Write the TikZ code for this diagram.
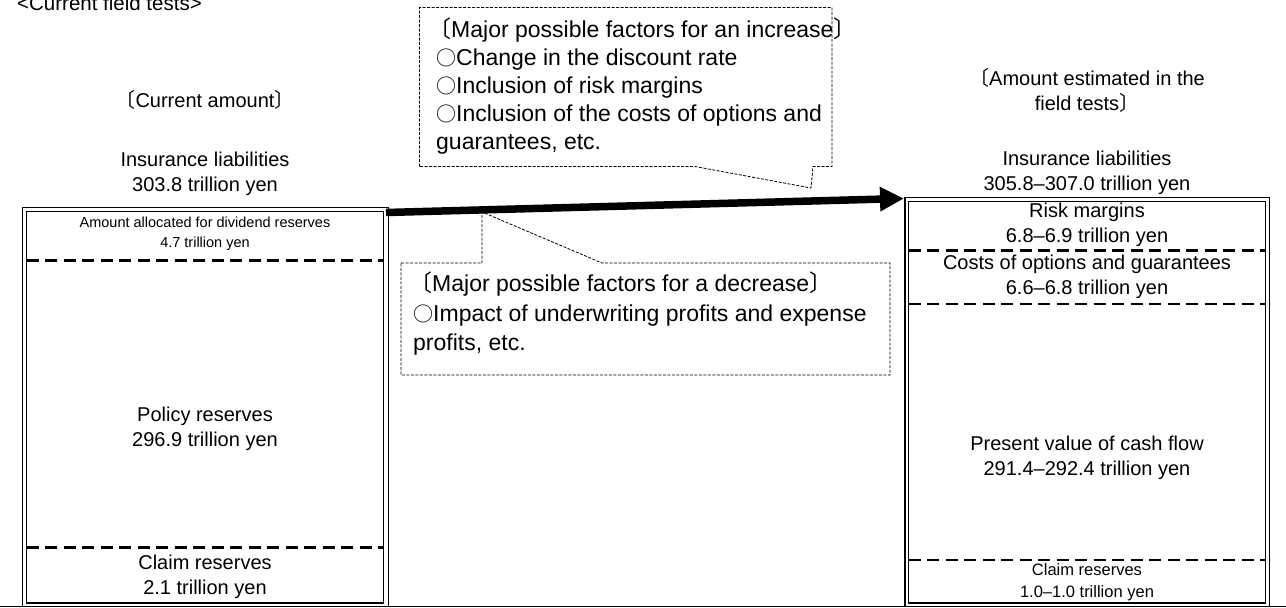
\documentclass[tikz,border=0pt]{standalone}
\usepackage{fontspec}
\setmainfont{Liberation Sans}
\newfontfamily\cjk{Noto Sans CJK JP}
\usetikzlibrary{arrows.meta}
\newcommand\mylb{{\cjk 〔}}
\newcommand\myrb{{\cjk 〕}}
\newcommand\myO{{\fontsize{20}{20}\selectfont\cjk ○}}
\begin{document}
\begin{tikzpicture}[x=1pt,y=-1pt,
  lbl/.style={font=\fontsize{20}{25}\selectfont, align=center, inner sep=0pt},
  smalllbl/.style={font=\fontsize{14.5}{20}\selectfont, align=center, inner sep=0pt},
  smallr/.style={font=\fontsize{16.5}{22}\selectfont, align=center, inner sep=0pt},
  calltext/.style={font=\fontsize{23}{28}\selectfont, align=left, inner sep=0pt},
  frameline/.style={line width=1.3pt},
  sepline/.style={line width=2.6pt, dash pattern=on 12pt off 6.5pt},
  callline/.style={line width=0.8pt, dash pattern=on 3pt off 1.5pt},
  bigarrow/.style={line width=7.5pt, -{Triangle[length=24pt,width=23pt]}}
]
\useasboundingbox (0,0) rectangle (1286,608);

% title (clipped at top, as in the reference)
\node[font=\fontsize{20.5}{25}\selectfont, inner sep=0pt, anchor=base west] (title) at (17,10) {<Current field tests>};

% headings
\node[lbl] (curamt) at (205,100) {\mylb Current amount\myrb};
\node[lbl] (estamt) at (1087,90) {\mylb Amount estimated in the\\field tests\myrb};
\node[lbl] (liabL) at (205,173.5) {Insurance liabilities\\303.8 trillion yen};
\node[lbl] (liabR) at (1087,173) {Insurance liabilities\\305.8--307.0 trillion yen};

% baseline
\draw[frameline] (0,606.5) -- (1286,606.5);

% left box (double)
\draw[frameline] (22.7,606.5) |- (388.3,207.3) -- (388.3,606.5);
\draw[frameline] (26.7,603) rectangle (383.3,211.7);
\node[smalllbl] (divres) at (205,234) {Amount allocated for dividend reserves\\4.7 trillion yen};
\draw[sepline] (26.7,260.5) -- (383.3,260.5);
\node[lbl] (polres) at (205,428.5) {Policy reserves\\296.9 trillion yen};
\draw[sepline] (26.7,547.5) -- (383.3,547.5);
\node[lbl] (claimL) at (205,577) {Claim reserves\\2.1 trillion yen};

% right box (double)
\draw[frameline] (905,606.5) |- (1269.5,197.3) -- (1269.5,606.5);
\draw[frameline] (908.7,603) rectangle (1265.3,201.7);
\node[lbl] (risk) at (1087,224.5) {Risk margins\\6.8--6.9 trillion yen};
\draw[sepline] (908.7,250.5) -- (1265.3,250.5);
\node[lbl] (costs) at (1087,277) {Costs of options and guarantees\\6.6--6.8 trillion yen};
\draw[sepline] (908.7,304) -- (1265.3,304);
\node[lbl] (pvcf) at (1087,457.5) {Present value of cash flow\\291.4--292.4 trillion yen};
\draw[sepline] (908.7,560) -- (1265.3,560);
\node[smallr] (claimR) at (1087,582) {Claim reserves\\1.0--1.0 trillion yen};

% arrow
\coordinate (arrowstart) at (386,212.5);
\coordinate (arrowend) at (904,198.5);
\draw[bigarrow] (arrowstart) -- (arrowend);

% upper callout
\draw[callline] (419.5,166.5) -- (419.5,7.5) -- (832,7.5) -- (832,166.5) -- (813,166.5) -- (811,188) -- (695,166.5) -- cycle;
\node[calltext, anchor=north west] (incr) at (436,18) {\hspace*{-8pt}\mylb Major possible factors for an increase\myrb\\
\myO Change in the discount rate\\
\myO Inclusion of risk margins\\
\myO Inclusion of the costs of options and\\
guarantees, etc.};

% lower callout
\draw[callline] (401,263) -- (482,263) -- (482,212) -- (602,263) -- (890,263) -- (890,375) -- (401,375) -- cycle;
\node[calltext, anchor=north west] (decr) at (413,272) {\hspace*{-4pt}\mylb Major possible factors for a decrease\myrb\\[1.5pt]
\myO Impact of underwriting profits and expense\\[1.5pt]
profits, etc.};
\end{tikzpicture}
\end{document}
